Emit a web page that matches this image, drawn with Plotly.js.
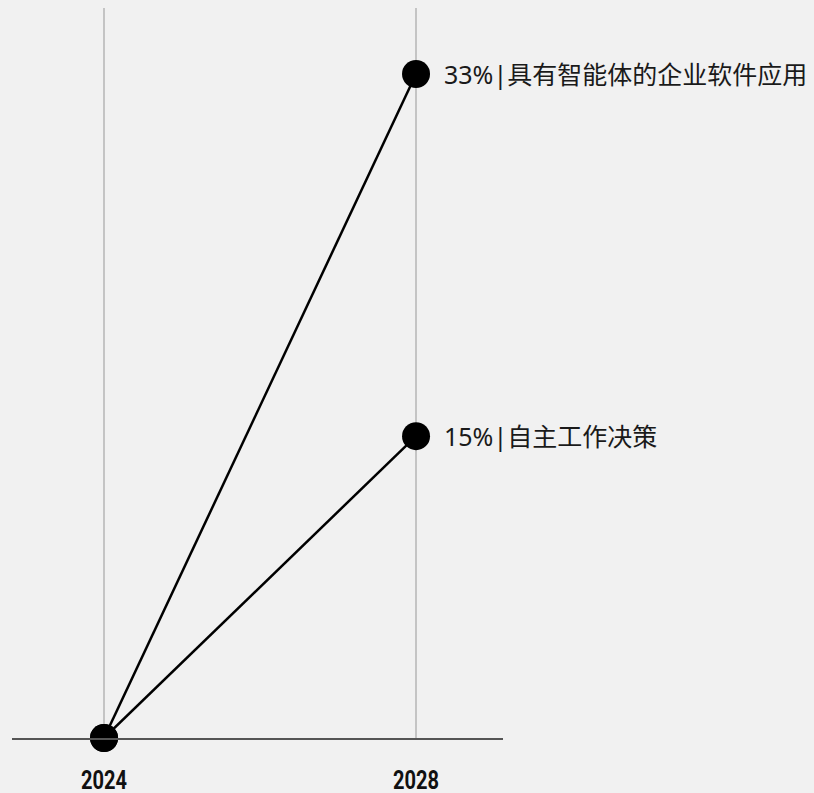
<!DOCTYPE html>
<html><head><meta charset="utf-8">
<script src="https://cdn.plot.ly/plotly-3.0.1.min.js"></script>
<style>html,body{margin:0;padding:0;background:#f1f1f1;}</style>
</head><body>
<div id="chart" style="width:814px;height:793px;"></div>
<script>
const years = [2024, 2028];
const tickLabels = ["2024", "2028"];
const agentApps = [0, 33];
const autonomousDecisions = [0, 15];
const seriesLabels = ["33%|具有智能体的企业软件应用", "15%|自主工作决策"];

const labelFont = '"Noto Sans", "Noto Sans CJK SC", sans-serif';
function line(y) {
  return {x: years, y: y, type: 'scatter', mode: 'lines+markers',
    line: {color: '#000', width: 2.5},
    marker: {color: '#000', size: 28},
    cliponaxis: false, hoverinfo: 'skip'};
}
const data = [line(agentApps), line(autonomousDecisions)];
const annotations = [
  {x: years[1], y: agentApps[1], text: seriesLabels[0]},
  {x: years[1], y: autonomousDecisions[1], text: seriesLabels[1]}
].map(a => Object.assign(a, {xref: 'x', yref: 'y', xanchor: 'left', yanchor: 'middle',
  xshift: 26, showarrow: false, font: {family: labelFont, size: 25, color: '#1a1a1a'}}));

const layout = {
  width: 814, height: 793,
  paper_bgcolor: '#f1f1f1', plot_bgcolor: '#f1f1f1',
  margin: {l: 12, r: 311, t: 8, b: 55},
  showlegend: false,
  xaxis: {range: [2022.82, 2029.115], tickvals: years, ticktext: tickLabels,
    showgrid: true, gridcolor: '#c4c4c4', gridwidth: 1.5, zeroline: false,
    showline: true, linecolor: '#555', linewidth: 2,
    ticks: '', ticklabelstandoff: 19,
    tickfont: {family: 'Roboto, "Liberation Sans", sans-serif', size: 25, color: '#111', weight: 'bold'}},
  yaxis: {range: [0, 36.28], showgrid: false, zeroline: false, showticklabels: false, ticks: ''},
  annotations: annotations
};
Plotly.newPlot('chart', data, layout, {displayModeBar: false, staticPlot: true}).then(function (gd) {
  // condensed look of the year labels
  gd.querySelectorAll('.xtick text').forEach(function (t) {
    t.setAttribute('textLength', '46');
    t.setAttribute('lengthAdjust', 'spacingAndGlyphs');
  });
});
</script>
</body></html>
